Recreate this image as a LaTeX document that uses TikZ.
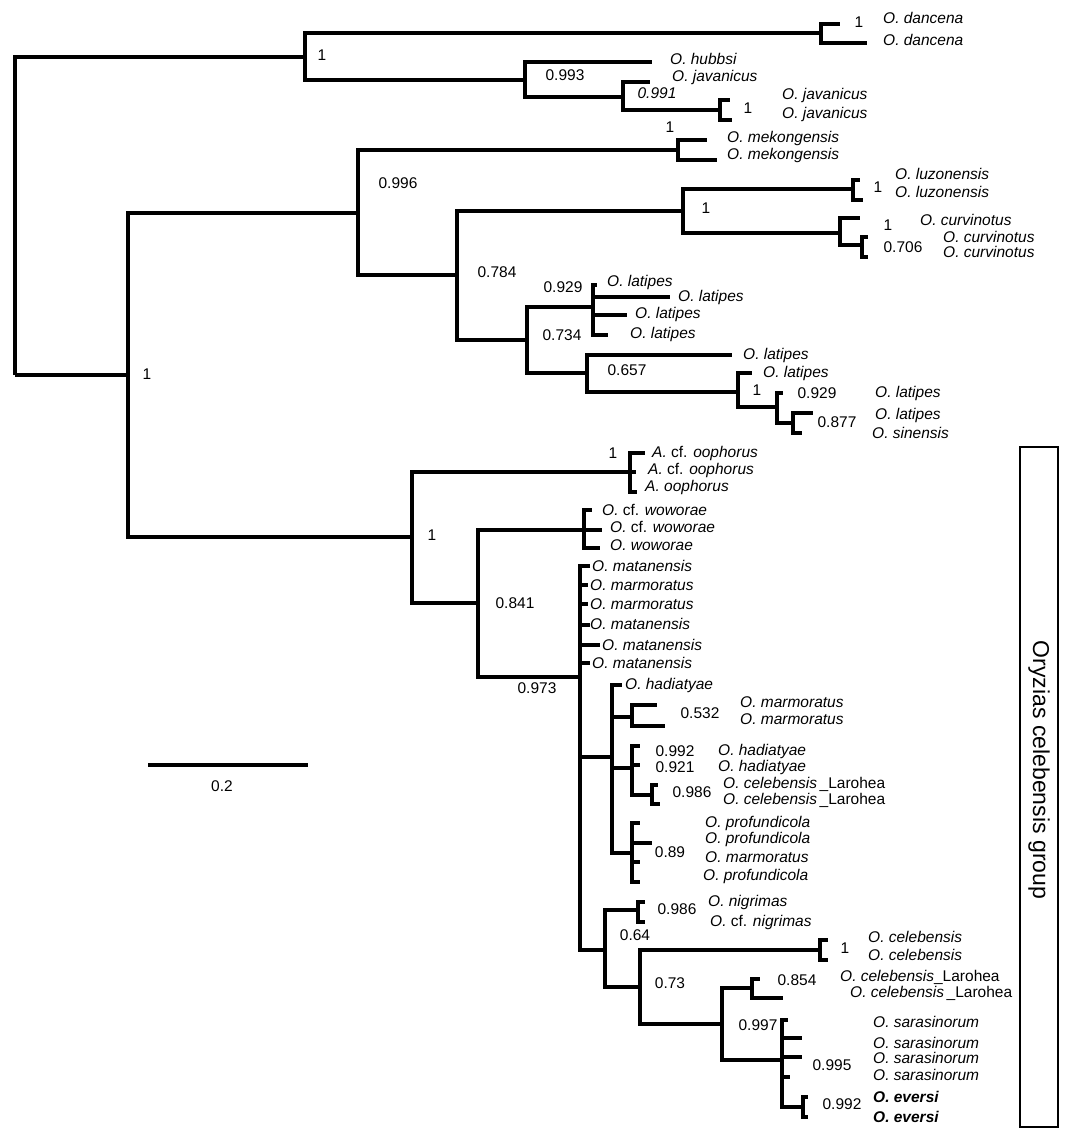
\documentclass[tikz,border=0pt]{standalone}
\usepackage{fontspec}
\setmainfont{Liberation Sans}
\tikzset{
  br/.style={line width=4.4pt},
  tax/.style={anchor=west,inner sep=0pt,font=\fontsize{15.5}{17}\selectfont\itshape},
  pp/.style={inner sep=0pt,font=\fontsize{15.5}{17}\selectfont},
}
\begin{document}
\begin{tikzpicture}[x=1pt,y=-1pt]
  \useasboundingbox (0,0) rectangle (1069,1138);
  % internal nodes
  \coordinate (root) at (15,375);
  \coordinate (A) at (305,57);    \coordinate (dan) at (821,33);
  \coordinate (jav1) at (525,80); \coordinate (jav2) at (623,97);
  \coordinate (jav3) at (720,110);
  \coordinate (B) at (128,375);   \coordinate (C) at (358,213);
  \coordinate (mek) at (678,150); \coordinate (D) at (457,275);
  \coordinate (E) at (683,211);   \coordinate (luz) at (853,189);
  \coordinate (cur1) at (840,233); \coordinate (cur2) at (862,245);
  \coordinate (F) at (527,340);   \coordinate (lat1) at (593,307);
  \coordinate (H) at (587,373);   \coordinate (lat2) at (738,392);
  \coordinate (lat3) at (777,407); \coordinate (lat4) at (793,423);
  \coordinate (L) at (412,537);   \coordinate (ooph) at (630,472);
  \coordinate (N) at (478,603);   \coordinate (wow) at (584,530);
  \coordinate (O) at (580,677);   \coordinate (P) at (612,757);
  \coordinate (Q) at (632,717);   \coordinate (R) at (632,768);
  \coordinate (S) at (652,795);   \coordinate (T) at (632,853);
  \coordinate (U) at (605,950);   \coordinate (nig) at (638,910);
  \coordinate (W) at (640,987);   \coordinate (cel) at (820,950);
  \coordinate (Y) at (722,1024);  \coordinate (Z) at (752,988);
  \coordinate (sar) at (782,1060); \coordinate (ev) at (803,1107);
  % branch tips
  \foreach \n/\px/\py in {dan-a/840/24, dan-b/867/43, hub/652/62, jav-a/650/82,
      jav-b/730/100, jav-c/732/120, mek-a/707/140, mek-b/717/160,
      luz-a/860/180, luz-b/863/200, cur-a/860/218, cur-b/868/237, cur-c/868/257,
      la/597/285, lb/670/297, lc/627/315, ld/608/335, le/732/355, lf/752/373,
      lg/783/393, lh/813/413, sin/802/433,
      oo-a/645/453, oo-b/636/472, oo-c/637/492,
      wo-a/592/510, wo-b/602/530, wo-c/600/548,
      ma-a/590/566, ma-b/588/585, ma-c/588/604, ma-d/590/625, ma-e/600/645, ma-f/590/663,
      ha-a/622/685, mm-a/657/705, mm-b/665/726, ha-b/640/746, ha-c/640/765,
      lr-a/658/785, lr-b/660/804,
      pr-a/640/823, pr-b/652/843, pr-c/640/862, pr-d/640/882,
      ni-a/645/902, ni-b/645/922, ce-a/828/940, ce-b/828/960,
      cl-a/760/979, cl-b/783/998,
      sa-a/788/1020, sa-b/802/1038, sa-c/802/1057, sa-d/790/1077,
      ev-a/808/1097, ev-b/808/1117}
    \coordinate (\n) at (\px,\py);
  % branches
  \foreach \p/\c in {root/A, root/B, A/dan, A/jav1, dan/dan-a, dan/dan-b,
      jav1/hub, jav1/jav2, jav2/jav-a, jav2/jav3, jav3/jav-b, jav3/jav-c,
      B/C, B/L, C/mek, C/D, mek/mek-a, mek/mek-b, D/E, D/F,
      E/luz, E/cur1, luz/luz-a, luz/luz-b, cur1/cur-a, cur1/cur2, cur2/cur-b, cur2/cur-c,
      F/lat1, F/H, lat1/la, lat1/lb, lat1/lc, lat1/ld, H/le, H/lat2,
      lat2/lf, lat2/lat3, lat3/lg, lat3/lat4, lat4/lh, lat4/sin,
      L/ooph, L/N, ooph/oo-a, ooph/oo-b, ooph/oo-c, N/wow, N/O,
      wow/wo-a, wow/wo-b, wow/wo-c,
      O/ma-a, O/ma-b, O/ma-c, O/ma-d, O/ma-e, O/ma-f, O/P, O/U,
      P/ha-a, P/Q, P/R, P/T, Q/mm-a, Q/mm-b, R/ha-b, R/ha-c, R/S, S/lr-a, S/lr-b,
      T/pr-a, T/pr-b, T/pr-c, T/pr-d, U/nig, U/W, nig/ni-a, nig/ni-b,
      W/cel, W/Y, cel/ce-a, cel/ce-b, Y/Z, Y/sar, Z/cl-a, Z/cl-b,
      sar/sa-a, sar/sa-b, sar/sa-c, sar/sa-d, sar/ev, ev/ev-a, ev/ev-b}
    \draw[br] (\p) |- (\c);

  % support values
  \node[pp] at (322,55) {1};      \node[pp] at (859,22) {1};
  \node[pp] at (565,75) {0.993};  \node[pp] at (657,93) {\itshape 0.991};
  \node[pp] at (748,108) {1};     \node[pp] at (670,127) {1};
  \node[pp] at (398,183) {0.996}; \node[pp] at (706,208) {1};
  \node[pp] at (878,187) {1};     \node[pp] at (888,225) {1};
  \node[pp] at (903,247) {0.706}; \node[pp] at (497,272) {0.784};
  \node[pp] at (563,287) {0.929}; \node[pp] at (562,335) {0.734};
  \node[pp] at (627,370) {0.657}; \node[pp] at (757,390) {1};
  \node[pp] at (817,393) {0.929}; \node[pp] at (837,422) {0.877};
  \node[pp] at (147,374) {1};     \node[pp] at (432,535) {1};
  \node[pp] at (613,453) {1};     \node[pp] at (515,603) {0.841};
  \node[pp] at (537,688) {0.973}; \node[pp] at (700,713) {0.532};
  \node[pp] at (675,751) {0.992}; \node[pp] at (675,767) {0.921};
  \node[pp] at (692,792) {0.986}; \node[pp] at (670,852) {0.89};
  \node[pp] at (677,909) {0.986}; \node[pp] at (635,935) {0.64};
  \node[pp] at (845,948) {1};     \node[pp] at (670,983) {0.73};
  \node[pp] at (797,980) {0.854}; \node[pp] at (758,1025) {0.997};
  \node[pp] at (832,1065) {0.995}; \node[pp] at (842,1104) {0.992};

  % taxa
  \node[tax] at (883,18) {O. dancena};
  \node[tax] at (883,40) {O. dancena};
  \node[tax] at (670,59) {O. hubbsi};
  \node[tax] at (672,77) {O. javanicus};
  \node[tax] at (782,95) {O. javanicus};
  \node[tax] at (782,114) {O. javanicus};
  \node[tax] at (727,138) {O. mekongensis};
  \node[tax] at (727,155) {O. mekongensis};
  \node[tax] at (895,174) {O. luzonensis};
  \node[tax] at (895,192) {O. luzonensis};
  \node[tax] at (920,220) {O. curvinotus};
  \node[tax] at (943,237) {O. curvinotus};
  \node[tax] at (943,252) {O. curvinotus};
  \node[tax] at (607,282) {O. latipes};
  \node[tax] at (678,297) {O. latipes};
  \node[tax] at (635,314) {O. latipes};
  \node[tax] at (630,334) {O. latipes};
  \node[tax] at (743,355) {O. latipes};
  \node[tax] at (763,373) {O. latipes};
  \node[tax] at (875,393) {O. latipes};
  \node[tax] at (875,415) {O. latipes};
  \node[tax] at (872,433) {O. sinensis};
  \node[tax] at (652,453) {A. \textup{cf.} oophorus};
  \node[tax] at (648,470) {A. \textup{cf.} oophorus};
  \node[tax] at (645,487) {A. oophorus};
  \node[tax] at (602,510) {O. \textup{cf.} woworae};
  \node[tax] at (610,527) {O. \textup{cf.} woworae};
  \node[tax] at (610,545) {O. woworae};
  \node[tax] at (592,566) {O. matanensis};
  \node[tax] at (590,585) {O. marmoratus};
  \node[tax] at (590,604) {O. marmoratus};
  \node[tax] at (590,624) {O. matanensis};
  \node[tax] at (602,645) {O. matanensis};
  \node[tax] at (592,663) {O. matanensis};
  \node[tax] at (625,685) {O. hadiatyae};
  \node[tax] at (740,702) {O. marmoratus};
  \node[tax] at (740,719) {O. marmoratus};
  \node[tax] at (718,751) {O. hadiatyae};
  \node[tax] at (718,767) {O. hadiatyae};
  \node[tax] at (723,784) {O. celebensis\,\textup{\_Larohea}};
  \node[tax] at (723,800) {O. celebensis\,\textup{\_Larohea}};
  \node[tax] at (705,823) {O. profundicola};
  \node[tax] at (705,839) {O. profundicola};
  \node[tax] at (705,857) {O. marmoratus};
  \node[tax] at (703,876) {O. profundicola};
  \node[tax] at (708,902) {O. nigrimas};
  \node[tax] at (710,922) {O. \textup{cf.} nigrimas};
  \node[tax] at (868,937) {O. celebensis};
  \node[tax] at (868,955) {O. celebensis};
  \node[tax] at (840,977) {O. celebensis\textup{\_Larohea}};
  \node[tax] at (850,993) {O. celebensis\,\textup{\_Larohea}};
  \node[tax] at (873,1022) {O. sarasinorum};
  \node[tax] at (873,1043) {O. sarasinorum};
  \node[tax] at (873,1058) {O. sarasinorum};
  \node[tax] at (873,1075) {O. sarasinorum};
  \node[tax,font=\fontsize{15.5}{17}\selectfont\bfseries\itshape] at (873,1097) {O. eversi};
  \node[tax,font=\fontsize{15.5}{17}\selectfont\bfseries\itshape] at (873,1117) {O. eversi};

  % scale bar
  \coordinate (sb-l) at (148,765); \coordinate (sb-r) at (308,765);
  \draw[br] (sb-l) -- (sb-r);
  \node[pp] (sb) at (222,786) {0.2};

  % group box
  \draw[line width=1.2pt] (1020,447) rectangle (1058,1127);
  \node[rotate=-90,font=\fontsize{23}{26}\selectfont] (grp) at (1039,770) {Oryzias celebensis group};
\end{tikzpicture}
\end{document}
